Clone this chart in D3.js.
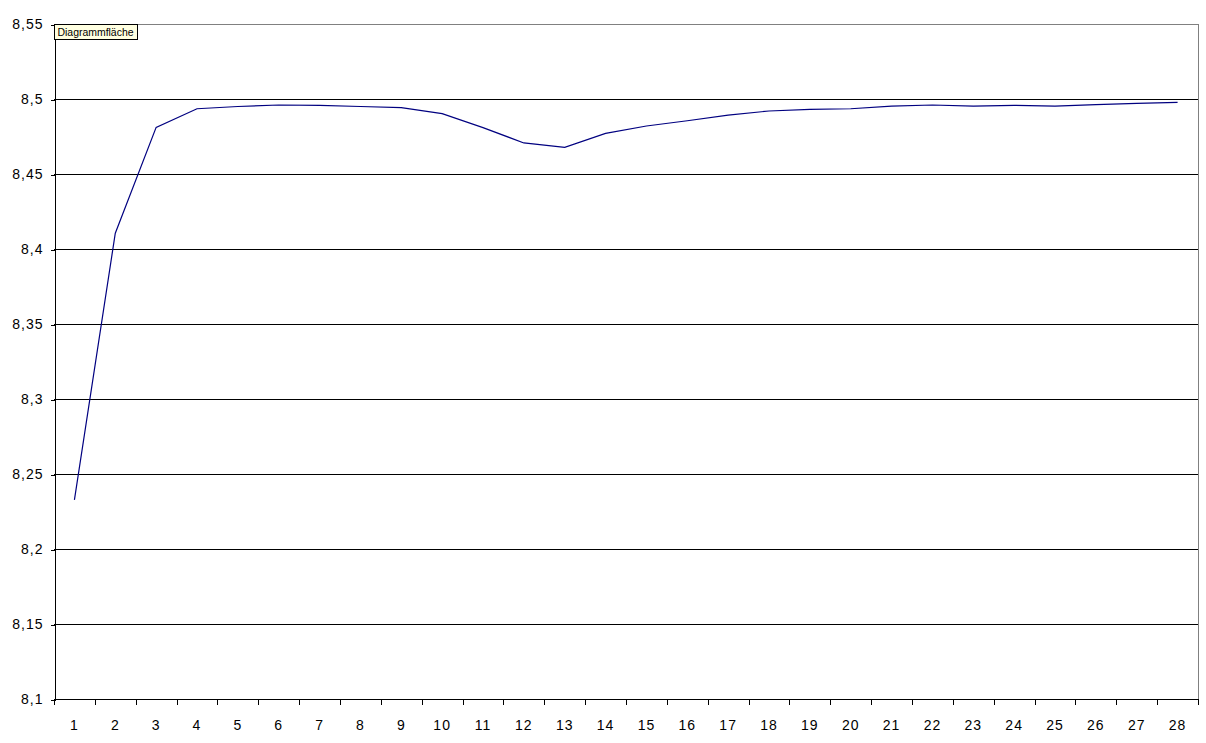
<!DOCTYPE html>
<html>
<head>
<meta charset="utf-8">
<script src="https://cdn.jsdelivr.net/npm/d3@7"></script>
<style>
html,body{margin:0;padding:0;background:#fff;}
svg text{font-family:"Liberation Sans",Arial,sans-serif;}
</style>
</head>
<body>
<svg id="chart" width="1206" height="743"></svg>
<script>
const categories = d3.range(1, 29).map(String);
const values = [8.2327, 8.4105, 8.4811, 8.4935, 8.4950, 8.4960, 8.4957, 8.4950, 8.4942, 8.4902,
  8.4809, 8.4707, 8.4678, 8.4771, 8.4820, 8.4855, 8.4893, 8.4920, 8.4931, 8.4935,
  8.4953, 8.4960, 8.4953, 8.4958, 8.4953, 8.4962, 8.4971, 8.4978];
const yTicks = [8.1, 8.15, 8.2, 8.25, 8.3, 8.35, 8.4, 8.45, 8.5, 8.55];
const tooltipText = "Diagrammfläche";

const svg = d3.select("#chart");
const L = 54, R = 1198, T = 24, B = 699;

const x = d3.scaleBand().domain(categories).range([L, R]).padding(0);
const y = d3.scaleLinear().domain([8.1, 8.55]).range([B, T]);
const fmt = v => d3.format("")(+v.toFixed(2)).replace(".", ",");

// gridlines
svg.append("g").selectAll("line").data(yTicks.filter(t => t > 8.1 && t < 8.55)).join("line")
  .attr("x1", L).attr("x2", R)
  .attr("y1", d => Math.round(y(d)) + 0.5).attr("y2", d => Math.round(y(d)) + 0.5)
  .attr("stroke", "#000").attr("shape-rendering", "crispEdges");

// plot border top/right gray
svg.append("line").attr("x1", L).attr("x2", R + 0.5).attr("y1", T + 0.5).attr("y2", T + 0.5)
  .attr("stroke", "#808080").attr("shape-rendering", "crispEdges");
svg.append("line").attr("x1", R + 0.5).attr("x2", R + 0.5).attr("y1", T).attr("y2", B + 5)
  .attr("stroke", "#808080").attr("shape-rendering", "crispEdges");

// y axis
const yAxis = d3.axisLeft(y).tickValues(yTicks).tickSize(4).tickPadding(7).tickFormat(fmt);
const gy = svg.append("g").attr("transform", `translate(${L + 0.5},0.5)`).call(yAxis);
gy.select(".domain").attr("stroke", "#000").attr("shape-rendering", "crispEdges");
gy.selectAll(".tick line").attr("stroke", "#000").attr("shape-rendering", "crispEdges");
gy.selectAll("text").attr("font-size", 14).attr("fill", "#000").attr("letter-spacing", 1)
  .attr("font-family", "'Liberation Sans',Arial,sans-serif");

// x axis: ticks between categories
const gx = svg.append("g").attr("transform", `translate(0,${B + 0.5})`);
gx.append("line").attr("x1", L).attr("x2", R + 1).attr("y1", 0).attr("y2", 0)
  .attr("stroke", "#000").attr("shape-rendering", "crispEdges");
const boundaries = categories.map(c => x(c)).concat([R]);
gx.selectAll("line.tk").data(boundaries).join("line").attr("class", "tk")
  .attr("x1", d => Math.round(d) + 0.5).attr("x2", d => Math.round(d) + 0.5)
  .attr("y1", 0).attr("y2", 5).attr("stroke", "#000").attr("shape-rendering", "crispEdges");
gx.selectAll("text").data(categories).join("text")
  .attr("x", d => x(d) + x.bandwidth() / 2).attr("y", 30.5)
  .attr("text-anchor", "middle").attr("font-size", 14).attr("letter-spacing", 1).attr("fill", "#000")
  .text(d => d);

// line
const line = d3.line().x((d, i) => x(categories[i]) + x.bandwidth() / 2).y(d => y(d));
svg.append("path").datum(values).attr("d", line)
  .attr("fill", "none").attr("stroke", "#000080").attr("stroke-width", 1.2);

// tooltip box
const tg = svg.append("g").attr("transform", `translate(${L + 0.5},${T + 0.5})`);
tg.append("rect").attr("width", 83).attr("height", 15).attr("fill", "#ffffe1").attr("stroke", "#000")
  .attr("shape-rendering", "crispEdges");
tg.append("text").attr("x", 3).attr("y", 11).attr("font-size", 10)
  .attr("font-family", "'DejaVu Sans',Tahoma,sans-serif").attr("fill", "#000")
  .attr("textLength", 76).attr("lengthAdjust", "spacingAndGlyphs").text(tooltipText);
</script>
</body>
</html>
